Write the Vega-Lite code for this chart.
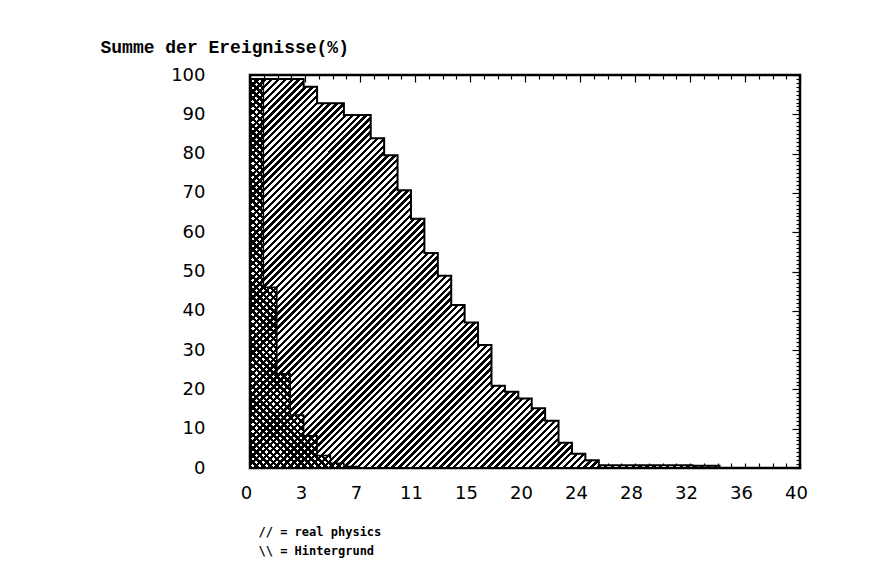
{
"$schema": "https://vega.github.io/schema/vega-lite/v6.json",
"width": 550,
"height": 393,
"autosize": {"type": "none"},
"padding": {"left": 250, "top": 75, "right": 90, "bottom": 119},
"background": "white",
"datasets": {
"phys": [{"wert":0,"summe":99},{"wert":0.976,"summe":99},{"wert":1.951,"summe":99},{"wert":2.927,"summe":99},{"wert":3.902,"summe":97},{"wert":4.878,"summe":92.8},{"wert":5.854,"summe":92.8},{"wert":6.829,"summe":89.8},{"wert":7.805,"summe":89.8},{"wert":8.78,"summe":83.9},{"wert":9.756,"summe":79.6},{"wert":10.732,"summe":70.7},{"wert":11.707,"summe":63.4},{"wert":12.683,"summe":54.7},{"wert":13.659,"summe":48.9},{"wert":14.634,"summe":41.5},{"wert":15.61,"summe":37},{"wert":16.585,"summe":31.3},{"wert":17.561,"summe":20.9},{"wert":18.537,"summe":19.4},{"wert":19.512,"summe":17.7},{"wert":20.488,"summe":15.2},{"wert":21.463,"summe":12},{"wert":22.439,"summe":6.4},{"wert":23.415,"summe":3.6},{"wert":24.39,"summe":2},{"wert":25.366,"summe":0.7},{"wert":26.341,"summe":0.7},{"wert":27.317,"summe":0.7},{"wert":28.293,"summe":0.7},{"wert":29.268,"summe":0.7},{"wert":30.244,"summe":0.7},{"wert":31.22,"summe":0.7},{"wert":32.195,"summe":0.6},{"wert":33.171,"summe":0.6},{"wert":34.146,"summe":0.6}],
"bg": [{"wert":0,"summe":99},{"wert":0.976,"summe":46},{"wert":1.951,"summe":24},{"wert":2.927,"summe":13.5},{"wert":3.902,"summe":8.2},{"wert":4.878,"summe":3.2},{"wert":5.854,"summe":1.2},{"wert":6.829,"summe":0.4},{"wert":7.805,"summe":0.4}]
},
"layer": [
{
"data": {"name": "phys"},
"mark": {"type": "area", "interpolate": "step-after", "stroke": "black", "strokeWidth": 2,
"fill": {"gradient": "linear", "x1": 0, "y1": 0, "x2": 1.084, "y2": 0.898, "stops": [
{"offset":0,"color":"#000"},
{"offset":0.004,"color":"#000"},{"offset":0.004,"color":"#fff"},{"offset":0.008,"color":"#fff"},{"offset":0.008,"color":"#000"},{"offset":0.012,"color":"#000"},{"offset":0.012,"color":"#fff"},{"offset":0.016,"color":"#fff"},{"offset":0.016,"color":"#000"},{"offset":0.02,"color":"#000"},{"offset":0.02,"color":"#fff"},{"offset":0.024,"color":"#fff"},{"offset":0.024,"color":"#000"},{"offset":0.028,"color":"#000"},{"offset":0.028,"color":"#fff"},{"offset":0.032,"color":"#fff"},{"offset":0.032,"color":"#000"},{"offset":0.036,"color":"#000"},{"offset":0.036,"color":"#fff"},{"offset":0.04,"color":"#fff"},{"offset":0.04,"color":"#000"},
{"offset":0.044,"color":"#000"},{"offset":0.044,"color":"#fff"},{"offset":0.048,"color":"#fff"},{"offset":0.048,"color":"#000"},{"offset":0.052,"color":"#000"},{"offset":0.052,"color":"#fff"},{"offset":0.056,"color":"#fff"},{"offset":0.056,"color":"#000"},{"offset":0.06,"color":"#000"},{"offset":0.06,"color":"#fff"},{"offset":0.064,"color":"#fff"},{"offset":0.064,"color":"#000"},{"offset":0.068,"color":"#000"},{"offset":0.068,"color":"#fff"},{"offset":0.072,"color":"#fff"},{"offset":0.072,"color":"#000"},{"offset":0.076,"color":"#000"},{"offset":0.076,"color":"#fff"},{"offset":0.08,"color":"#fff"},{"offset":0.08,"color":"#000"},
{"offset":0.084,"color":"#000"},{"offset":0.084,"color":"#fff"},{"offset":0.088,"color":"#fff"},{"offset":0.088,"color":"#000"},{"offset":0.092,"color":"#000"},{"offset":0.092,"color":"#fff"},{"offset":0.096,"color":"#fff"},{"offset":0.096,"color":"#000"},{"offset":0.1,"color":"#000"},{"offset":0.1,"color":"#fff"},{"offset":0.104,"color":"#fff"},{"offset":0.104,"color":"#000"},{"offset":0.108,"color":"#000"},{"offset":0.108,"color":"#fff"},{"offset":0.112,"color":"#fff"},{"offset":0.112,"color":"#000"},{"offset":0.116,"color":"#000"},{"offset":0.116,"color":"#fff"},{"offset":0.12,"color":"#fff"},{"offset":0.12,"color":"#000"},
{"offset":0.124,"color":"#000"},{"offset":0.124,"color":"#fff"},{"offset":0.128,"color":"#fff"},{"offset":0.128,"color":"#000"},{"offset":0.132,"color":"#000"},{"offset":0.132,"color":"#fff"},{"offset":0.136,"color":"#fff"},{"offset":0.136,"color":"#000"},{"offset":0.14,"color":"#000"},{"offset":0.14,"color":"#fff"},{"offset":0.144,"color":"#fff"},{"offset":0.144,"color":"#000"},{"offset":0.148,"color":"#000"},{"offset":0.148,"color":"#fff"},{"offset":0.152,"color":"#fff"},{"offset":0.152,"color":"#000"},{"offset":0.156,"color":"#000"},{"offset":0.156,"color":"#fff"},{"offset":0.16,"color":"#fff"},{"offset":0.16,"color":"#000"},
{"offset":0.164,"color":"#000"},{"offset":0.164,"color":"#fff"},{"offset":0.168,"color":"#fff"},{"offset":0.168,"color":"#000"},{"offset":0.172,"color":"#000"},{"offset":0.172,"color":"#fff"},{"offset":0.176,"color":"#fff"},{"offset":0.176,"color":"#000"},{"offset":0.18,"color":"#000"},{"offset":0.18,"color":"#fff"},{"offset":0.184,"color":"#fff"},{"offset":0.184,"color":"#000"},{"offset":0.188,"color":"#000"},{"offset":0.188,"color":"#fff"},{"offset":0.192,"color":"#fff"},{"offset":0.192,"color":"#000"},{"offset":0.196,"color":"#000"},{"offset":0.196,"color":"#fff"},{"offset":0.2,"color":"#fff"},{"offset":0.2,"color":"#000"},
{"offset":0.204,"color":"#000"},{"offset":0.204,"color":"#fff"},{"offset":0.208,"color":"#fff"},{"offset":0.208,"color":"#000"},{"offset":0.212,"color":"#000"},{"offset":0.212,"color":"#fff"},{"offset":0.216,"color":"#fff"},{"offset":0.216,"color":"#000"},{"offset":0.22,"color":"#000"},{"offset":0.22,"color":"#fff"},{"offset":0.224,"color":"#fff"},{"offset":0.224,"color":"#000"},{"offset":0.228,"color":"#000"},{"offset":0.228,"color":"#fff"},{"offset":0.232,"color":"#fff"},{"offset":0.232,"color":"#000"},{"offset":0.236,"color":"#000"},{"offset":0.236,"color":"#fff"},{"offset":0.24,"color":"#fff"},{"offset":0.24,"color":"#000"},
{"offset":0.244,"color":"#000"},{"offset":0.244,"color":"#fff"},{"offset":0.248,"color":"#fff"},{"offset":0.248,"color":"#000"},{"offset":0.252,"color":"#000"},{"offset":0.252,"color":"#fff"},{"offset":0.256,"color":"#fff"},{"offset":0.256,"color":"#000"},{"offset":0.26,"color":"#000"},{"offset":0.26,"color":"#fff"},{"offset":0.264,"color":"#fff"},{"offset":0.264,"color":"#000"},{"offset":0.268,"color":"#000"},{"offset":0.268,"color":"#fff"},{"offset":0.272,"color":"#fff"},{"offset":0.272,"color":"#000"},{"offset":0.276,"color":"#000"},{"offset":0.276,"color":"#fff"},{"offset":0.28,"color":"#fff"},{"offset":0.28,"color":"#000"},
{"offset":0.284,"color":"#000"},{"offset":0.284,"color":"#fff"},{"offset":0.288,"color":"#fff"},{"offset":0.288,"color":"#000"},{"offset":0.292,"color":"#000"},{"offset":0.292,"color":"#fff"},{"offset":0.296,"color":"#fff"},{"offset":0.296,"color":"#000"},{"offset":0.3,"color":"#000"},{"offset":0.3,"color":"#fff"},{"offset":0.304,"color":"#fff"},{"offset":0.304,"color":"#000"},{"offset":0.308,"color":"#000"},{"offset":0.308,"color":"#fff"},{"offset":0.312,"color":"#fff"},{"offset":0.312,"color":"#000"},{"offset":0.316,"color":"#000"},{"offset":0.316,"color":"#fff"},{"offset":0.32,"color":"#fff"},{"offset":0.32,"color":"#000"},
{"offset":0.324,"color":"#000"},{"offset":0.324,"color":"#fff"},{"offset":0.328,"color":"#fff"},{"offset":0.328,"color":"#000"},{"offset":0.332,"color":"#000"},{"offset":0.332,"color":"#fff"},{"offset":0.336,"color":"#fff"},{"offset":0.336,"color":"#000"},{"offset":0.34,"color":"#000"},{"offset":0.34,"color":"#fff"},{"offset":0.344,"color":"#fff"},{"offset":0.344,"color":"#000"},{"offset":0.348,"color":"#000"},{"offset":0.348,"color":"#fff"},{"offset":0.352,"color":"#fff"},{"offset":0.352,"color":"#000"},{"offset":0.356,"color":"#000"},{"offset":0.356,"color":"#fff"},{"offset":0.36,"color":"#fff"},{"offset":0.36,"color":"#000"},
{"offset":0.364,"color":"#000"},{"offset":0.364,"color":"#fff"},{"offset":0.368,"color":"#fff"},{"offset":0.368,"color":"#000"},{"offset":0.372,"color":"#000"},{"offset":0.372,"color":"#fff"},{"offset":0.376,"color":"#fff"},{"offset":0.376,"color":"#000"},{"offset":0.38,"color":"#000"},{"offset":0.38,"color":"#fff"},{"offset":0.384,"color":"#fff"},{"offset":0.384,"color":"#000"},{"offset":0.388,"color":"#000"},{"offset":0.388,"color":"#fff"},{"offset":0.392,"color":"#fff"},{"offset":0.392,"color":"#000"},{"offset":0.396,"color":"#000"},{"offset":0.396,"color":"#fff"},{"offset":0.4,"color":"#fff"},{"offset":0.4,"color":"#000"},
{"offset":0.404,"color":"#000"},{"offset":0.404,"color":"#fff"},{"offset":0.408,"color":"#fff"},{"offset":0.408,"color":"#000"},{"offset":0.412,"color":"#000"},{"offset":0.412,"color":"#fff"},{"offset":0.416,"color":"#fff"},{"offset":0.416,"color":"#000"},{"offset":0.42,"color":"#000"},{"offset":0.42,"color":"#fff"},{"offset":0.424,"color":"#fff"},{"offset":0.424,"color":"#000"},{"offset":0.428,"color":"#000"},{"offset":0.428,"color":"#fff"},{"offset":0.432,"color":"#fff"},{"offset":0.432,"color":"#000"},{"offset":0.436,"color":"#000"},{"offset":0.436,"color":"#fff"},{"offset":0.44,"color":"#fff"},{"offset":0.44,"color":"#000"},
{"offset":0.444,"color":"#000"},{"offset":0.444,"color":"#fff"},{"offset":0.448,"color":"#fff"},{"offset":0.448,"color":"#000"},{"offset":0.452,"color":"#000"},{"offset":0.452,"color":"#fff"},{"offset":0.456,"color":"#fff"},{"offset":0.456,"color":"#000"},{"offset":0.46,"color":"#000"},{"offset":0.46,"color":"#fff"},{"offset":0.464,"color":"#fff"},{"offset":0.464,"color":"#000"},{"offset":0.468,"color":"#000"},{"offset":0.468,"color":"#fff"},{"offset":0.472,"color":"#fff"},{"offset":0.472,"color":"#000"},{"offset":0.476,"color":"#000"},{"offset":0.476,"color":"#fff"},{"offset":0.48,"color":"#fff"},{"offset":0.48,"color":"#000"},
{"offset":0.484,"color":"#000"},{"offset":0.484,"color":"#fff"},{"offset":0.488,"color":"#fff"},{"offset":0.488,"color":"#000"},{"offset":0.492,"color":"#000"},{"offset":0.492,"color":"#fff"},{"offset":0.496,"color":"#fff"},{"offset":0.496,"color":"#000"},{"offset":0.5,"color":"#000"},{"offset":0.5,"color":"#fff"},{"offset":0.504,"color":"#fff"},{"offset":0.504,"color":"#000"},{"offset":0.508,"color":"#000"},{"offset":0.508,"color":"#fff"},{"offset":0.512,"color":"#fff"},{"offset":0.512,"color":"#000"},{"offset":0.516,"color":"#000"},{"offset":0.516,"color":"#fff"},{"offset":0.52,"color":"#fff"},{"offset":0.52,"color":"#000"},
{"offset":0.524,"color":"#000"},{"offset":0.524,"color":"#fff"},{"offset":0.528,"color":"#fff"},{"offset":0.528,"color":"#000"},{"offset":0.532,"color":"#000"},{"offset":0.532,"color":"#fff"},{"offset":0.536,"color":"#fff"},{"offset":0.536,"color":"#000"},{"offset":0.54,"color":"#000"},{"offset":0.54,"color":"#fff"},{"offset":0.544,"color":"#fff"},{"offset":0.544,"color":"#000"},{"offset":0.548,"color":"#000"},{"offset":0.548,"color":"#fff"},{"offset":0.552,"color":"#fff"},{"offset":0.552,"color":"#000"},{"offset":0.556,"color":"#000"},{"offset":0.556,"color":"#fff"},{"offset":0.56,"color":"#fff"},{"offset":0.56,"color":"#000"},
{"offset":0.564,"color":"#000"},{"offset":0.564,"color":"#fff"},{"offset":0.568,"color":"#fff"},{"offset":0.568,"color":"#000"},{"offset":0.572,"color":"#000"},{"offset":0.572,"color":"#fff"},{"offset":0.576,"color":"#fff"},{"offset":0.576,"color":"#000"},{"offset":0.58,"color":"#000"},{"offset":0.58,"color":"#fff"},{"offset":0.584,"color":"#fff"},{"offset":0.584,"color":"#000"},{"offset":0.588,"color":"#000"},{"offset":0.588,"color":"#fff"},{"offset":0.592,"color":"#fff"},{"offset":0.592,"color":"#000"},{"offset":0.596,"color":"#000"},{"offset":0.596,"color":"#fff"},{"offset":0.6,"color":"#fff"},{"offset":0.6,"color":"#000"},
{"offset":0.604,"color":"#000"},{"offset":0.604,"color":"#fff"},{"offset":0.608,"color":"#fff"},{"offset":0.608,"color":"#000"},{"offset":0.612,"color":"#000"},{"offset":0.612,"color":"#fff"},{"offset":0.616,"color":"#fff"},{"offset":0.616,"color":"#000"},{"offset":0.62,"color":"#000"},{"offset":0.62,"color":"#fff"},{"offset":0.624,"color":"#fff"},{"offset":0.624,"color":"#000"},{"offset":0.628,"color":"#000"},{"offset":0.628,"color":"#fff"},{"offset":0.632,"color":"#fff"},{"offset":0.632,"color":"#000"},{"offset":0.636,"color":"#000"},{"offset":0.636,"color":"#fff"},{"offset":0.64,"color":"#fff"},{"offset":0.64,"color":"#000"},
{"offset":0.644,"color":"#000"},{"offset":0.644,"color":"#fff"},{"offset":0.648,"color":"#fff"},{"offset":0.648,"color":"#000"},{"offset":0.652,"color":"#000"},{"offset":0.652,"color":"#fff"},{"offset":0.656,"color":"#fff"},{"offset":0.656,"color":"#000"},{"offset":0.66,"color":"#000"},{"offset":0.66,"color":"#fff"},{"offset":0.664,"color":"#fff"},{"offset":0.664,"color":"#000"},{"offset":0.668,"color":"#000"},{"offset":0.668,"color":"#fff"},{"offset":0.672,"color":"#fff"},{"offset":0.672,"color":"#000"},{"offset":0.676,"color":"#000"},{"offset":0.676,"color":"#fff"},{"offset":0.68,"color":"#fff"},{"offset":0.68,"color":"#000"},
{"offset":0.684,"color":"#000"},{"offset":0.684,"color":"#fff"},{"offset":0.688,"color":"#fff"},{"offset":0.688,"color":"#000"},{"offset":0.692,"color":"#000"},{"offset":0.692,"color":"#fff"},{"offset":0.696,"color":"#fff"},{"offset":0.696,"color":"#000"},{"offset":0.7,"color":"#000"},{"offset":0.7,"color":"#fff"},{"offset":0.704,"color":"#fff"},{"offset":0.704,"color":"#000"},{"offset":0.708,"color":"#000"},{"offset":0.708,"color":"#fff"},{"offset":0.712,"color":"#fff"},{"offset":0.712,"color":"#000"},{"offset":0.716,"color":"#000"},{"offset":0.716,"color":"#fff"},{"offset":0.72,"color":"#fff"},{"offset":0.72,"color":"#000"},
{"offset":0.724,"color":"#000"},{"offset":0.724,"color":"#fff"},{"offset":0.728,"color":"#fff"},{"offset":0.728,"color":"#000"},{"offset":0.732,"color":"#000"},{"offset":0.732,"color":"#fff"},{"offset":0.736,"color":"#fff"},{"offset":0.736,"color":"#000"},{"offset":0.74,"color":"#000"},{"offset":0.74,"color":"#fff"},{"offset":0.744,"color":"#fff"},{"offset":0.744,"color":"#000"},{"offset":0.748,"color":"#000"},{"offset":0.748,"color":"#fff"},{"offset":0.752,"color":"#fff"},{"offset":0.752,"color":"#000"},{"offset":0.756,"color":"#000"},{"offset":0.756,"color":"#fff"},{"offset":0.76,"color":"#fff"},{"offset":0.76,"color":"#000"},
{"offset":0.764,"color":"#000"},{"offset":0.764,"color":"#fff"},{"offset":0.768,"color":"#fff"},{"offset":0.768,"color":"#000"},{"offset":0.772,"color":"#000"},{"offset":0.772,"color":"#fff"},{"offset":0.776,"color":"#fff"},{"offset":0.776,"color":"#000"},{"offset":0.78,"color":"#000"},{"offset":0.78,"color":"#fff"},{"offset":0.784,"color":"#fff"},{"offset":0.784,"color":"#000"},{"offset":0.788,"color":"#000"},{"offset":0.788,"color":"#fff"},{"offset":0.792,"color":"#fff"},{"offset":0.792,"color":"#000"},{"offset":0.796,"color":"#000"},{"offset":0.796,"color":"#fff"},{"offset":0.8,"color":"#fff"},{"offset":0.8,"color":"#000"},
{"offset":0.804,"color":"#000"},{"offset":0.804,"color":"#fff"},{"offset":0.808,"color":"#fff"},{"offset":0.808,"color":"#000"},{"offset":0.812,"color":"#000"},{"offset":0.812,"color":"#fff"},{"offset":0.816,"color":"#fff"},{"offset":0.816,"color":"#000"},{"offset":0.82,"color":"#000"},{"offset":0.82,"color":"#fff"},{"offset":0.824,"color":"#fff"},{"offset":0.824,"color":"#000"},{"offset":0.828,"color":"#000"},{"offset":0.828,"color":"#fff"},{"offset":0.832,"color":"#fff"},{"offset":0.832,"color":"#000"},{"offset":0.836,"color":"#000"},{"offset":0.836,"color":"#fff"},{"offset":0.84,"color":"#fff"},{"offset":0.84,"color":"#000"},
{"offset":0.844,"color":"#000"},{"offset":0.844,"color":"#fff"},{"offset":0.848,"color":"#fff"},{"offset":0.848,"color":"#000"},{"offset":0.852,"color":"#000"},{"offset":0.852,"color":"#fff"},{"offset":0.856,"color":"#fff"},{"offset":0.856,"color":"#000"},{"offset":0.86,"color":"#000"},{"offset":0.86,"color":"#fff"},{"offset":0.864,"color":"#fff"},{"offset":0.864,"color":"#000"},{"offset":0.868,"color":"#000"},{"offset":0.868,"color":"#fff"},{"offset":0.872,"color":"#fff"},{"offset":0.872,"color":"#000"},{"offset":0.876,"color":"#000"},{"offset":0.876,"color":"#fff"},{"offset":0.88,"color":"#fff"},{"offset":0.88,"color":"#000"},
{"offset":0.884,"color":"#000"},{"offset":0.884,"color":"#fff"},{"offset":0.888,"color":"#fff"},{"offset":0.888,"color":"#000"},{"offset":0.892,"color":"#000"},{"offset":0.892,"color":"#fff"},{"offset":0.896,"color":"#fff"},{"offset":0.896,"color":"#000"},{"offset":0.9,"color":"#000"},{"offset":0.9,"color":"#fff"},{"offset":0.904,"color":"#fff"},{"offset":0.904,"color":"#000"},{"offset":0.908,"color":"#000"},{"offset":0.908,"color":"#fff"},{"offset":0.912,"color":"#fff"},{"offset":0.912,"color":"#000"},{"offset":0.916,"color":"#000"},{"offset":0.916,"color":"#fff"},{"offset":0.92,"color":"#fff"},{"offset":0.92,"color":"#000"},
{"offset":0.924,"color":"#000"},{"offset":0.924,"color":"#fff"},{"offset":0.928,"color":"#fff"},{"offset":0.928,"color":"#000"},{"offset":0.932,"color":"#000"},{"offset":0.932,"color":"#fff"},{"offset":0.936,"color":"#fff"},{"offset":0.936,"color":"#000"},{"offset":0.94,"color":"#000"},{"offset":0.94,"color":"#fff"},{"offset":0.944,"color":"#fff"},{"offset":0.944,"color":"#000"},{"offset":0.948,"color":"#000"},{"offset":0.948,"color":"#fff"},{"offset":0.952,"color":"#fff"},{"offset":0.952,"color":"#000"},{"offset":0.956,"color":"#000"},{"offset":0.956,"color":"#fff"},{"offset":0.96,"color":"#fff"},{"offset":0.96,"color":"#000"},
{"offset":0.964,"color":"#000"},{"offset":0.964,"color":"#fff"},{"offset":0.968,"color":"#fff"},{"offset":0.968,"color":"#000"},{"offset":0.972,"color":"#000"},{"offset":0.972,"color":"#fff"},{"offset":0.976,"color":"#fff"},{"offset":0.976,"color":"#000"},{"offset":0.98,"color":"#000"},{"offset":0.98,"color":"#fff"},{"offset":0.984,"color":"#fff"},{"offset":0.984,"color":"#000"},{"offset":0.988,"color":"#000"},{"offset":0.988,"color":"#fff"},{"offset":0.992,"color":"#fff"},{"offset":0.992,"color":"#000"},{"offset":0.996,"color":"#000"},{"offset":0.996,"color":"#fff"},{"offset":1,"color":"#fff"}
]}},
"encoding": {
"x": {"field": "wert", "type": "quantitative", "scale": {"domain": [0, 40], "nice": false, "zero": false},
"axis": {"orient": "bottom", "values": [0,1,2,3,4,5,6,7,8,9,10,11,12,13,14,15,16,17,18,19,20,21,22,23,24,25,26,27,28,29,30,31,32,33,34,35,36,37,38,39,40],
"ticks": true, "tickSize": -5, "tickWidth": 1.2, "tickColor": "black",
"labelExpr": "datum.value % 4 === 0 ? (datum.value === 4 ? '3' : datum.value === 8 ? '7' : datum.value === 12 ? '11' : datum.value === 16 ? '15' : datum.label) : ''",
"labelOverlap": false, "labelFlush": false, "labelBound": false, "labelPadding": 21, "labelOffset": -4,
"title": ["// = real physics", "\\\\ = Hintergrund"], "titleAlign": "left", "titleBaseline": "alphabetic", "titleX": 8, "titleY": 67,
"titleFont": "DejaVu Sans Mono", "titleFontSize": 12, "titleFontWeight": "bold", "titleLineHeight": 19, "titleColor": "black"}},
"y": {"field": "summe", "type": "quantitative", "scale": {"domain": [0, 100], "nice": false},
"axis": {"orient": "left", "values": [0,10,20,30,40,50,60,70,80,90,100], "ticks": false, "labelPadding": 45, "labelOverlap": false, "labelFlush": false,
"title": "Summe der Ereignisse(%)", "titleAngle": 0, "titleAlign": "left", "titleBaseline": "alphabetic", "titleX": -150, "titleY": -23,
"titleFont": "Liberation Mono", "titleFontSize": 18, "titleFontWeight": "bold", "titleColor": "black"}}
}
},
{
"data": {"name": "bg"},
"mark": {"type": "area", "interpolate": "step-after", "stroke": "black", "strokeWidth": 1.5,
"fill": {"gradient": "linear", "x1": 0, "y1": 1, "x2": 0.5656, "y2": -1.051, "stops": [
{"offset":0,"color":"#000"},
{"offset":0.004,"color":"#000"},{"offset":0.004,"color":"rgba(0,0,0,0)"},{"offset":0.008,"color":"rgba(0,0,0,0)"},{"offset":0.008,"color":"#000"},{"offset":0.012,"color":"#000"},{"offset":0.012,"color":"rgba(0,0,0,0)"},{"offset":0.016,"color":"rgba(0,0,0,0)"},{"offset":0.016,"color":"#000"},{"offset":0.02,"color":"#000"},{"offset":0.02,"color":"rgba(0,0,0,0)"},{"offset":0.024,"color":"rgba(0,0,0,0)"},{"offset":0.024,"color":"#000"},{"offset":0.028,"color":"#000"},{"offset":0.028,"color":"rgba(0,0,0,0)"},{"offset":0.032,"color":"rgba(0,0,0,0)"},{"offset":0.032,"color":"#000"},{"offset":0.036,"color":"#000"},{"offset":0.036,"color":"rgba(0,0,0,0)"},{"offset":0.04,"color":"rgba(0,0,0,0)"},{"offset":0.04,"color":"#000"},
{"offset":0.044,"color":"#000"},{"offset":0.044,"color":"rgba(0,0,0,0)"},{"offset":0.048,"color":"rgba(0,0,0,0)"},{"offset":0.048,"color":"#000"},{"offset":0.052,"color":"#000"},{"offset":0.052,"color":"rgba(0,0,0,0)"},{"offset":0.056,"color":"rgba(0,0,0,0)"},{"offset":0.056,"color":"#000"},{"offset":0.06,"color":"#000"},{"offset":0.06,"color":"rgba(0,0,0,0)"},{"offset":0.064,"color":"rgba(0,0,0,0)"},{"offset":0.064,"color":"#000"},{"offset":0.068,"color":"#000"},{"offset":0.068,"color":"rgba(0,0,0,0)"},{"offset":0.072,"color":"rgba(0,0,0,0)"},{"offset":0.072,"color":"#000"},{"offset":0.076,"color":"#000"},{"offset":0.076,"color":"rgba(0,0,0,0)"},{"offset":0.08,"color":"rgba(0,0,0,0)"},{"offset":0.08,"color":"#000"},
{"offset":0.084,"color":"#000"},{"offset":0.084,"color":"rgba(0,0,0,0)"},{"offset":0.088,"color":"rgba(0,0,0,0)"},{"offset":0.088,"color":"#000"},{"offset":0.092,"color":"#000"},{"offset":0.092,"color":"rgba(0,0,0,0)"},{"offset":0.096,"color":"rgba(0,0,0,0)"},{"offset":0.096,"color":"#000"},{"offset":0.1,"color":"#000"},{"offset":0.1,"color":"rgba(0,0,0,0)"},{"offset":0.104,"color":"rgba(0,0,0,0)"},{"offset":0.104,"color":"#000"},{"offset":0.108,"color":"#000"},{"offset":0.108,"color":"rgba(0,0,0,0)"},{"offset":0.112,"color":"rgba(0,0,0,0)"},{"offset":0.112,"color":"#000"},{"offset":0.116,"color":"#000"},{"offset":0.116,"color":"rgba(0,0,0,0)"},{"offset":0.12,"color":"rgba(0,0,0,0)"},{"offset":0.12,"color":"#000"},
{"offset":0.124,"color":"#000"},{"offset":0.124,"color":"rgba(0,0,0,0)"},{"offset":0.128,"color":"rgba(0,0,0,0)"},{"offset":0.128,"color":"#000"},{"offset":0.132,"color":"#000"},{"offset":0.132,"color":"rgba(0,0,0,0)"},{"offset":0.136,"color":"rgba(0,0,0,0)"},{"offset":0.136,"color":"#000"},{"offset":0.14,"color":"#000"},{"offset":0.14,"color":"rgba(0,0,0,0)"},{"offset":0.144,"color":"rgba(0,0,0,0)"},{"offset":0.144,"color":"#000"},{"offset":0.148,"color":"#000"},{"offset":0.148,"color":"rgba(0,0,0,0)"},{"offset":0.152,"color":"rgba(0,0,0,0)"},{"offset":0.152,"color":"#000"},{"offset":0.156,"color":"#000"},{"offset":0.156,"color":"rgba(0,0,0,0)"},{"offset":0.16,"color":"rgba(0,0,0,0)"},{"offset":0.16,"color":"#000"},
{"offset":0.164,"color":"#000"},{"offset":0.164,"color":"rgba(0,0,0,0)"},{"offset":0.168,"color":"rgba(0,0,0,0)"},{"offset":0.168,"color":"#000"},{"offset":0.172,"color":"#000"},{"offset":0.172,"color":"rgba(0,0,0,0)"},{"offset":0.176,"color":"rgba(0,0,0,0)"},{"offset":0.176,"color":"#000"},{"offset":0.18,"color":"#000"},{"offset":0.18,"color":"rgba(0,0,0,0)"},{"offset":0.184,"color":"rgba(0,0,0,0)"},{"offset":0.184,"color":"#000"},{"offset":0.188,"color":"#000"},{"offset":0.188,"color":"rgba(0,0,0,0)"},{"offset":0.192,"color":"rgba(0,0,0,0)"},{"offset":0.192,"color":"#000"},{"offset":0.196,"color":"#000"},{"offset":0.196,"color":"rgba(0,0,0,0)"},{"offset":0.2,"color":"rgba(0,0,0,0)"},{"offset":0.2,"color":"#000"},
{"offset":0.204,"color":"#000"},{"offset":0.204,"color":"rgba(0,0,0,0)"},{"offset":0.208,"color":"rgba(0,0,0,0)"},{"offset":0.208,"color":"#000"},{"offset":0.212,"color":"#000"},{"offset":0.212,"color":"rgba(0,0,0,0)"},{"offset":0.216,"color":"rgba(0,0,0,0)"},{"offset":0.216,"color":"#000"},{"offset":0.22,"color":"#000"},{"offset":0.22,"color":"rgba(0,0,0,0)"},{"offset":0.224,"color":"rgba(0,0,0,0)"},{"offset":0.224,"color":"#000"},{"offset":0.228,"color":"#000"},{"offset":0.228,"color":"rgba(0,0,0,0)"},{"offset":0.232,"color":"rgba(0,0,0,0)"},{"offset":0.232,"color":"#000"},{"offset":0.236,"color":"#000"},{"offset":0.236,"color":"rgba(0,0,0,0)"},{"offset":0.24,"color":"rgba(0,0,0,0)"},{"offset":0.24,"color":"#000"},
{"offset":0.244,"color":"#000"},{"offset":0.244,"color":"rgba(0,0,0,0)"},{"offset":0.248,"color":"rgba(0,0,0,0)"},{"offset":0.248,"color":"#000"},{"offset":0.252,"color":"#000"},{"offset":0.252,"color":"rgba(0,0,0,0)"},{"offset":0.256,"color":"rgba(0,0,0,0)"},{"offset":0.256,"color":"#000"},{"offset":0.26,"color":"#000"},{"offset":0.26,"color":"rgba(0,0,0,0)"},{"offset":0.264,"color":"rgba(0,0,0,0)"},{"offset":0.264,"color":"#000"},{"offset":0.268,"color":"#000"},{"offset":0.268,"color":"rgba(0,0,0,0)"},{"offset":0.272,"color":"rgba(0,0,0,0)"},{"offset":0.272,"color":"#000"},{"offset":0.276,"color":"#000"},{"offset":0.276,"color":"rgba(0,0,0,0)"},{"offset":0.28,"color":"rgba(0,0,0,0)"},{"offset":0.28,"color":"#000"},
{"offset":0.284,"color":"#000"},{"offset":0.284,"color":"rgba(0,0,0,0)"},{"offset":0.288,"color":"rgba(0,0,0,0)"},{"offset":0.288,"color":"#000"},{"offset":0.292,"color":"#000"},{"offset":0.292,"color":"rgba(0,0,0,0)"},{"offset":0.296,"color":"rgba(0,0,0,0)"},{"offset":0.296,"color":"#000"},{"offset":0.3,"color":"#000"},{"offset":0.3,"color":"rgba(0,0,0,0)"},{"offset":0.304,"color":"rgba(0,0,0,0)"},{"offset":0.304,"color":"#000"},{"offset":0.308,"color":"#000"},{"offset":0.308,"color":"rgba(0,0,0,0)"},{"offset":0.312,"color":"rgba(0,0,0,0)"},{"offset":0.312,"color":"#000"},{"offset":0.316,"color":"#000"},{"offset":0.316,"color":"rgba(0,0,0,0)"},{"offset":0.32,"color":"rgba(0,0,0,0)"},{"offset":0.32,"color":"#000"},
{"offset":0.324,"color":"#000"},{"offset":0.324,"color":"rgba(0,0,0,0)"},{"offset":0.328,"color":"rgba(0,0,0,0)"},{"offset":0.328,"color":"#000"},{"offset":0.332,"color":"#000"},{"offset":0.332,"color":"rgba(0,0,0,0)"},{"offset":0.336,"color":"rgba(0,0,0,0)"},{"offset":0.336,"color":"#000"},{"offset":0.34,"color":"#000"},{"offset":0.34,"color":"rgba(0,0,0,0)"},{"offset":0.344,"color":"rgba(0,0,0,0)"},{"offset":0.344,"color":"#000"},{"offset":0.348,"color":"#000"},{"offset":0.348,"color":"rgba(0,0,0,0)"},{"offset":0.352,"color":"rgba(0,0,0,0)"},{"offset":0.352,"color":"#000"},{"offset":0.356,"color":"#000"},{"offset":0.356,"color":"rgba(0,0,0,0)"},{"offset":0.36,"color":"rgba(0,0,0,0)"},{"offset":0.36,"color":"#000"},
{"offset":0.364,"color":"#000"},{"offset":0.364,"color":"rgba(0,0,0,0)"},{"offset":0.368,"color":"rgba(0,0,0,0)"},{"offset":0.368,"color":"#000"},{"offset":0.372,"color":"#000"},{"offset":0.372,"color":"rgba(0,0,0,0)"},{"offset":0.376,"color":"rgba(0,0,0,0)"},{"offset":0.376,"color":"#000"},{"offset":0.38,"color":"#000"},{"offset":0.38,"color":"rgba(0,0,0,0)"},{"offset":0.384,"color":"rgba(0,0,0,0)"},{"offset":0.384,"color":"#000"},{"offset":0.388,"color":"#000"},{"offset":0.388,"color":"rgba(0,0,0,0)"},{"offset":0.392,"color":"rgba(0,0,0,0)"},{"offset":0.392,"color":"#000"},{"offset":0.396,"color":"#000"},{"offset":0.396,"color":"rgba(0,0,0,0)"},{"offset":0.4,"color":"rgba(0,0,0,0)"},{"offset":0.4,"color":"#000"},
{"offset":0.404,"color":"#000"},{"offset":0.404,"color":"rgba(0,0,0,0)"},{"offset":0.408,"color":"rgba(0,0,0,0)"},{"offset":0.408,"color":"#000"},{"offset":0.412,"color":"#000"},{"offset":0.412,"color":"rgba(0,0,0,0)"},{"offset":0.416,"color":"rgba(0,0,0,0)"},{"offset":0.416,"color":"#000"},{"offset":0.42,"color":"#000"},{"offset":0.42,"color":"rgba(0,0,0,0)"},{"offset":0.424,"color":"rgba(0,0,0,0)"},{"offset":0.424,"color":"#000"},{"offset":0.428,"color":"#000"},{"offset":0.428,"color":"rgba(0,0,0,0)"},{"offset":0.432,"color":"rgba(0,0,0,0)"},{"offset":0.432,"color":"#000"},{"offset":0.436,"color":"#000"},{"offset":0.436,"color":"rgba(0,0,0,0)"},{"offset":0.44,"color":"rgba(0,0,0,0)"},{"offset":0.44,"color":"#000"},
{"offset":0.444,"color":"#000"},{"offset":0.444,"color":"rgba(0,0,0,0)"},{"offset":0.448,"color":"rgba(0,0,0,0)"},{"offset":0.448,"color":"#000"},{"offset":0.452,"color":"#000"},{"offset":0.452,"color":"rgba(0,0,0,0)"},{"offset":0.456,"color":"rgba(0,0,0,0)"},{"offset":0.456,"color":"#000"},{"offset":0.46,"color":"#000"},{"offset":0.46,"color":"rgba(0,0,0,0)"},{"offset":0.464,"color":"rgba(0,0,0,0)"},{"offset":0.464,"color":"#000"},{"offset":0.468,"color":"#000"},{"offset":0.468,"color":"rgba(0,0,0,0)"},{"offset":0.472,"color":"rgba(0,0,0,0)"},{"offset":0.472,"color":"#000"},{"offset":0.476,"color":"#000"},{"offset":0.476,"color":"rgba(0,0,0,0)"},{"offset":0.48,"color":"rgba(0,0,0,0)"},{"offset":0.48,"color":"#000"},
{"offset":0.484,"color":"#000"},{"offset":0.484,"color":"rgba(0,0,0,0)"},{"offset":0.488,"color":"rgba(0,0,0,0)"},{"offset":0.488,"color":"#000"},{"offset":0.492,"color":"#000"},{"offset":0.492,"color":"rgba(0,0,0,0)"},{"offset":0.496,"color":"rgba(0,0,0,0)"},{"offset":0.496,"color":"#000"},{"offset":0.5,"color":"#000"},{"offset":0.5,"color":"rgba(0,0,0,0)"},{"offset":0.504,"color":"rgba(0,0,0,0)"},{"offset":0.504,"color":"#000"},{"offset":0.508,"color":"#000"},{"offset":0.508,"color":"rgba(0,0,0,0)"},{"offset":0.512,"color":"rgba(0,0,0,0)"},{"offset":0.512,"color":"#000"},{"offset":0.516,"color":"#000"},{"offset":0.516,"color":"rgba(0,0,0,0)"},{"offset":0.52,"color":"rgba(0,0,0,0)"},{"offset":0.52,"color":"#000"},
{"offset":0.524,"color":"#000"},{"offset":0.524,"color":"rgba(0,0,0,0)"},{"offset":0.528,"color":"rgba(0,0,0,0)"},{"offset":0.528,"color":"#000"},{"offset":0.532,"color":"#000"},{"offset":0.532,"color":"rgba(0,0,0,0)"},{"offset":0.536,"color":"rgba(0,0,0,0)"},{"offset":0.536,"color":"#000"},{"offset":0.54,"color":"#000"},{"offset":0.54,"color":"rgba(0,0,0,0)"},{"offset":0.544,"color":"rgba(0,0,0,0)"},{"offset":0.544,"color":"#000"},{"offset":0.548,"color":"#000"},{"offset":0.548,"color":"rgba(0,0,0,0)"},{"offset":0.552,"color":"rgba(0,0,0,0)"},{"offset":0.552,"color":"#000"},{"offset":0.556,"color":"#000"},{"offset":0.556,"color":"rgba(0,0,0,0)"},{"offset":0.56,"color":"rgba(0,0,0,0)"},{"offset":0.56,"color":"#000"},
{"offset":0.564,"color":"#000"},{"offset":0.564,"color":"rgba(0,0,0,0)"},{"offset":0.568,"color":"rgba(0,0,0,0)"},{"offset":0.568,"color":"#000"},{"offset":0.572,"color":"#000"},{"offset":0.572,"color":"rgba(0,0,0,0)"},{"offset":0.576,"color":"rgba(0,0,0,0)"},{"offset":0.576,"color":"#000"},{"offset":0.58,"color":"#000"},{"offset":0.58,"color":"rgba(0,0,0,0)"},{"offset":0.6,"color":"rgba(0,0,0,0)"}
]}},
"encoding": {
"x": {"field": "wert", "type": "quantitative",
"axis": {"orient": "top", "values": [0,1,2,3,4,5,6,7,8,9,10,11,12,13,14,15,16,17,18,19,20,21,22,23,24,25,26,27,28,29,30,31,32,33,34,35,36,37,38,39,40],
"labels": false, "title": null, "ticks": true, "tickColor": "black", "tickWidth": 1.2,
"tickSize": {"condition": {"test": "datum.value % 4 === 0", "value": -7}, "value": -4}}},
"y": {"field": "summe", "type": "quantitative",
"axis": {"orient": "right", "values": [0,1,2,3,4,5,6,7,8,9,10,11,12,13,14,15,16,17,18,19,20,21,22,23,24,25,26,27,28,29,30,31,32,33,34,35,36,37,38,39,40,41,42,43,44,45,46,47,48,49,50,51,52,53,54,55,56,57,58,59,60,61,62,63,64,65,66,67,68,69,70,71,72,73,74,75,76,77,78,79,80,81,82,83,84,85,86,87,88,89,90,91,92,93,94,95,96,97,98,99,100],
"labels": false, "title": null, "ticks": true, "tickColor": "black", "tickWidth": 1.2,
"tickSize": {"condition": {"test": "datum.value % 10 === 0", "value": -8}, "value": -4}}}
}
}
],
"resolve": {"axis": {"x": "independent", "y": "independent"}},
"config": {
"view": {"stroke": "black", "strokeWidth": 2.5},
"axis": {"grid": false, "domain": false, "labelColor": "black", "labelFont": "DejaVu Sans", "labelFontSize": 18, "labelFontWeight": "normal"}
}
}
